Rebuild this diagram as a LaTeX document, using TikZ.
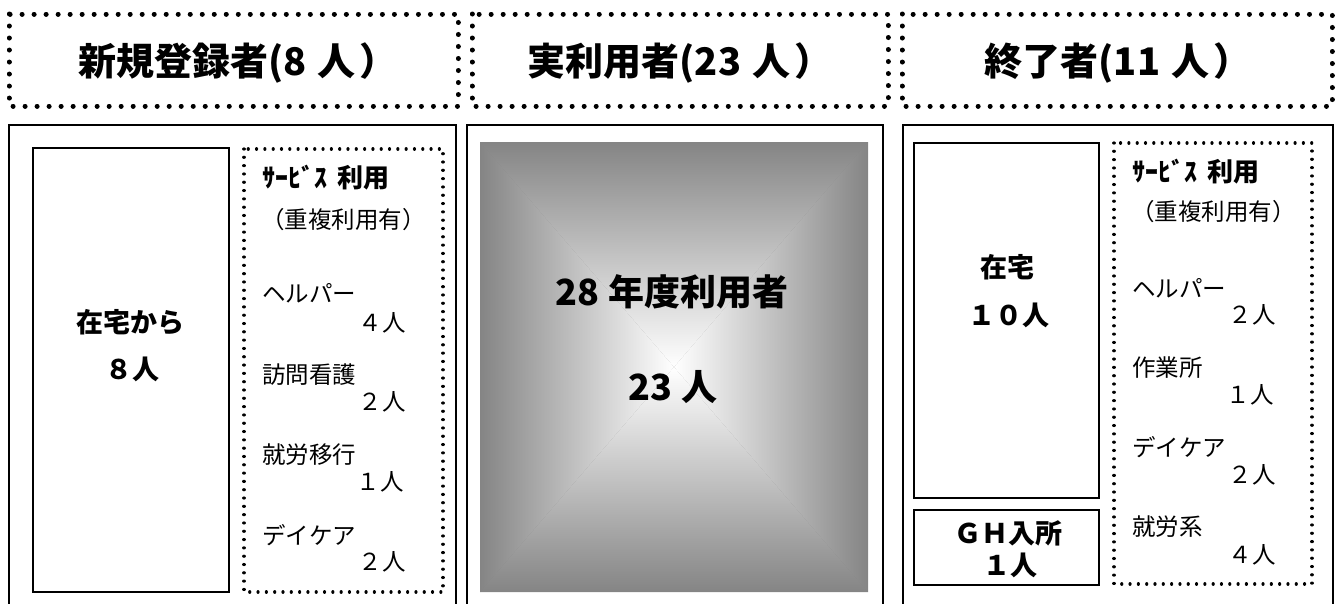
\documentclass[tikz,border=0pt]{standalone}
\usepackage{fontspec}
\newfontfamily\jp{Noto Sans CJK JP}
\begin{document}
\begin{tikzpicture}[x=1pt,y=-1pt,
  hdrbox/.style={line width=5pt, dash pattern=on 0.01pt off 12pt, line cap=round},
  panel/.style={line width=1.7pt},
  inbox/.style={draw, line width=1.7pt},
  dotbox/.style={line width=3.2pt, dash pattern=on 0.01pt off 8.3pt, line cap=round},
  hdr/.style={font=\jp\bfseries\fontsize{38}{38}\selectfont, inner sep=0pt},
  big/.style={font=\jp\bfseries\fontsize{27}{27}\selectfont, inner sep=0pt},
  mid/.style={font=\jp\bfseries\fontsize{36}{36}\selectfont, inner sep=0pt},
  ttl/.style={font=\jp\bfseries\fontsize{26}{26}\selectfont, inner sep=0pt, anchor=west},
  svc/.style={font=\jp\fontsize{23.5}{23.5}\selectfont, inner sep=0pt, anchor=west},
  num/.style={font=\jp\fontsize{23.5}{23.5}\selectfont, inner sep=0pt, anchor=east}
]
\useasboundingbox (0,0) rectangle (1343,603);
% header boxes
\draw[hdrbox] (9,14) rectangle (458,106);
\draw[hdrbox] (472,14) rectangle (888,106);
\draw[hdrbox] (902,14) rectangle (1332,106);
\node[hdr] (h1) at (238,63) {新規登録者(8\hspace{0.3em}人\hspace{0.1em}）};
\node[hdr] (h2) at (680,63) {実利用者(23\hspace{0.3em}人\hspace{0.1em}）};
\node[hdr] (h3) at (1118,63) {終了者(11\hspace{0.3em}人\hspace{0.1em}）};
% panels (open at bottom)
\draw[panel] (9,604) -- (9,125) -- (456,125) -- (456,604);
\draw[panel] (467,604) -- (467,125) -- (883,125) -- (883,604);
\draw[panel] (903,604) -- (903,125) -- (1333,125) -- (1333,604);
% panel 1
\draw[inbox] (33,148) rectangle (229,592);
\node[big] (p1a) at (130,322) {在宅から};
\node[big] (p1b) at (132,369) {８人};
\draw[dotbox] (244,149) rectangle (443,592);
\node[ttl] (p1t) at (262,178) {ｻｰﾋﾞｽ\hspace{0.4em}利用};
\node[svc] (p1p) at (261,220) {（重複利用有）};
\node[svc] (p1s1) at (262,293) {ヘルパー};
\node[num] (p1n1) at (406,323) {４人};
\node[svc] (p1s2) at (262,375) {訪問看護};
\node[num] (p1n2) at (406,402) {２人};
\node[svc] (p1s3) at (262,455) {就労移行};
\node[num] (p1n3) at (404,482) {１人};
\node[svc] (p1s4) at (262,535) {デイケア};
\node[num] (p1n4) at (406,562) {２人};
% panel 2 gradient
\fill[black!48] (480,142) rectangle (868,592);
\shade[top color=black!48, bottom color=white] (480,142) -- (868,142) -- (674,367) -- cycle;
\shade[top color=white, bottom color=black!48] (480,592) -- (868,592) -- (674,367) -- cycle;
\shade[left color=black!48, right color=white] (480,142) -- (674,367) -- (480,592) -- cycle;
\shade[left color=white, right color=black!48] (868,142) -- (674,367) -- (868,592) -- cycle;
\node[mid] (m1) at (672,292) {28 年度利用者};
\node[mid] (m2) at (673,387) {23 人};
% panel 3
\draw[inbox] (914,143) rectangle (1099,498);
\node[big] (p3a) at (1007,267) {在宅};
\node[big] (p3b) at (1009,315) {１０人};
\draw[inbox] (914,510) rectangle (1099,585);
\node[big] (p3c) at (1008,533) {ＧＨ入所};
\node[big] (p3d) at (1010,565) {１人};
\draw[dotbox] (1114,143) rectangle (1312,584);
\node[ttl] (p3t) at (1132,172) {ｻｰﾋﾞｽ\hspace{0.4em}利用};
\node[svc] (p3p) at (1131,212) {（重複利用有）};
\node[svc] (p3s1) at (1132,288) {ヘルパー};
\node[num] (p3n1) at (1276,315) {２人};
\node[svc] (p3s2) at (1132,368) {作業所};
\node[num] (p3n2) at (1274,395) {１人};
\node[svc] (p3s3) at (1132,447) {デイケア};
\node[num] (p3n3) at (1276,475) {２人};
\node[svc] (p3s4) at (1132,527) {就労系};
\node[num] (p3n4) at (1276,555) {４人};
\end{tikzpicture}
\end{document}
